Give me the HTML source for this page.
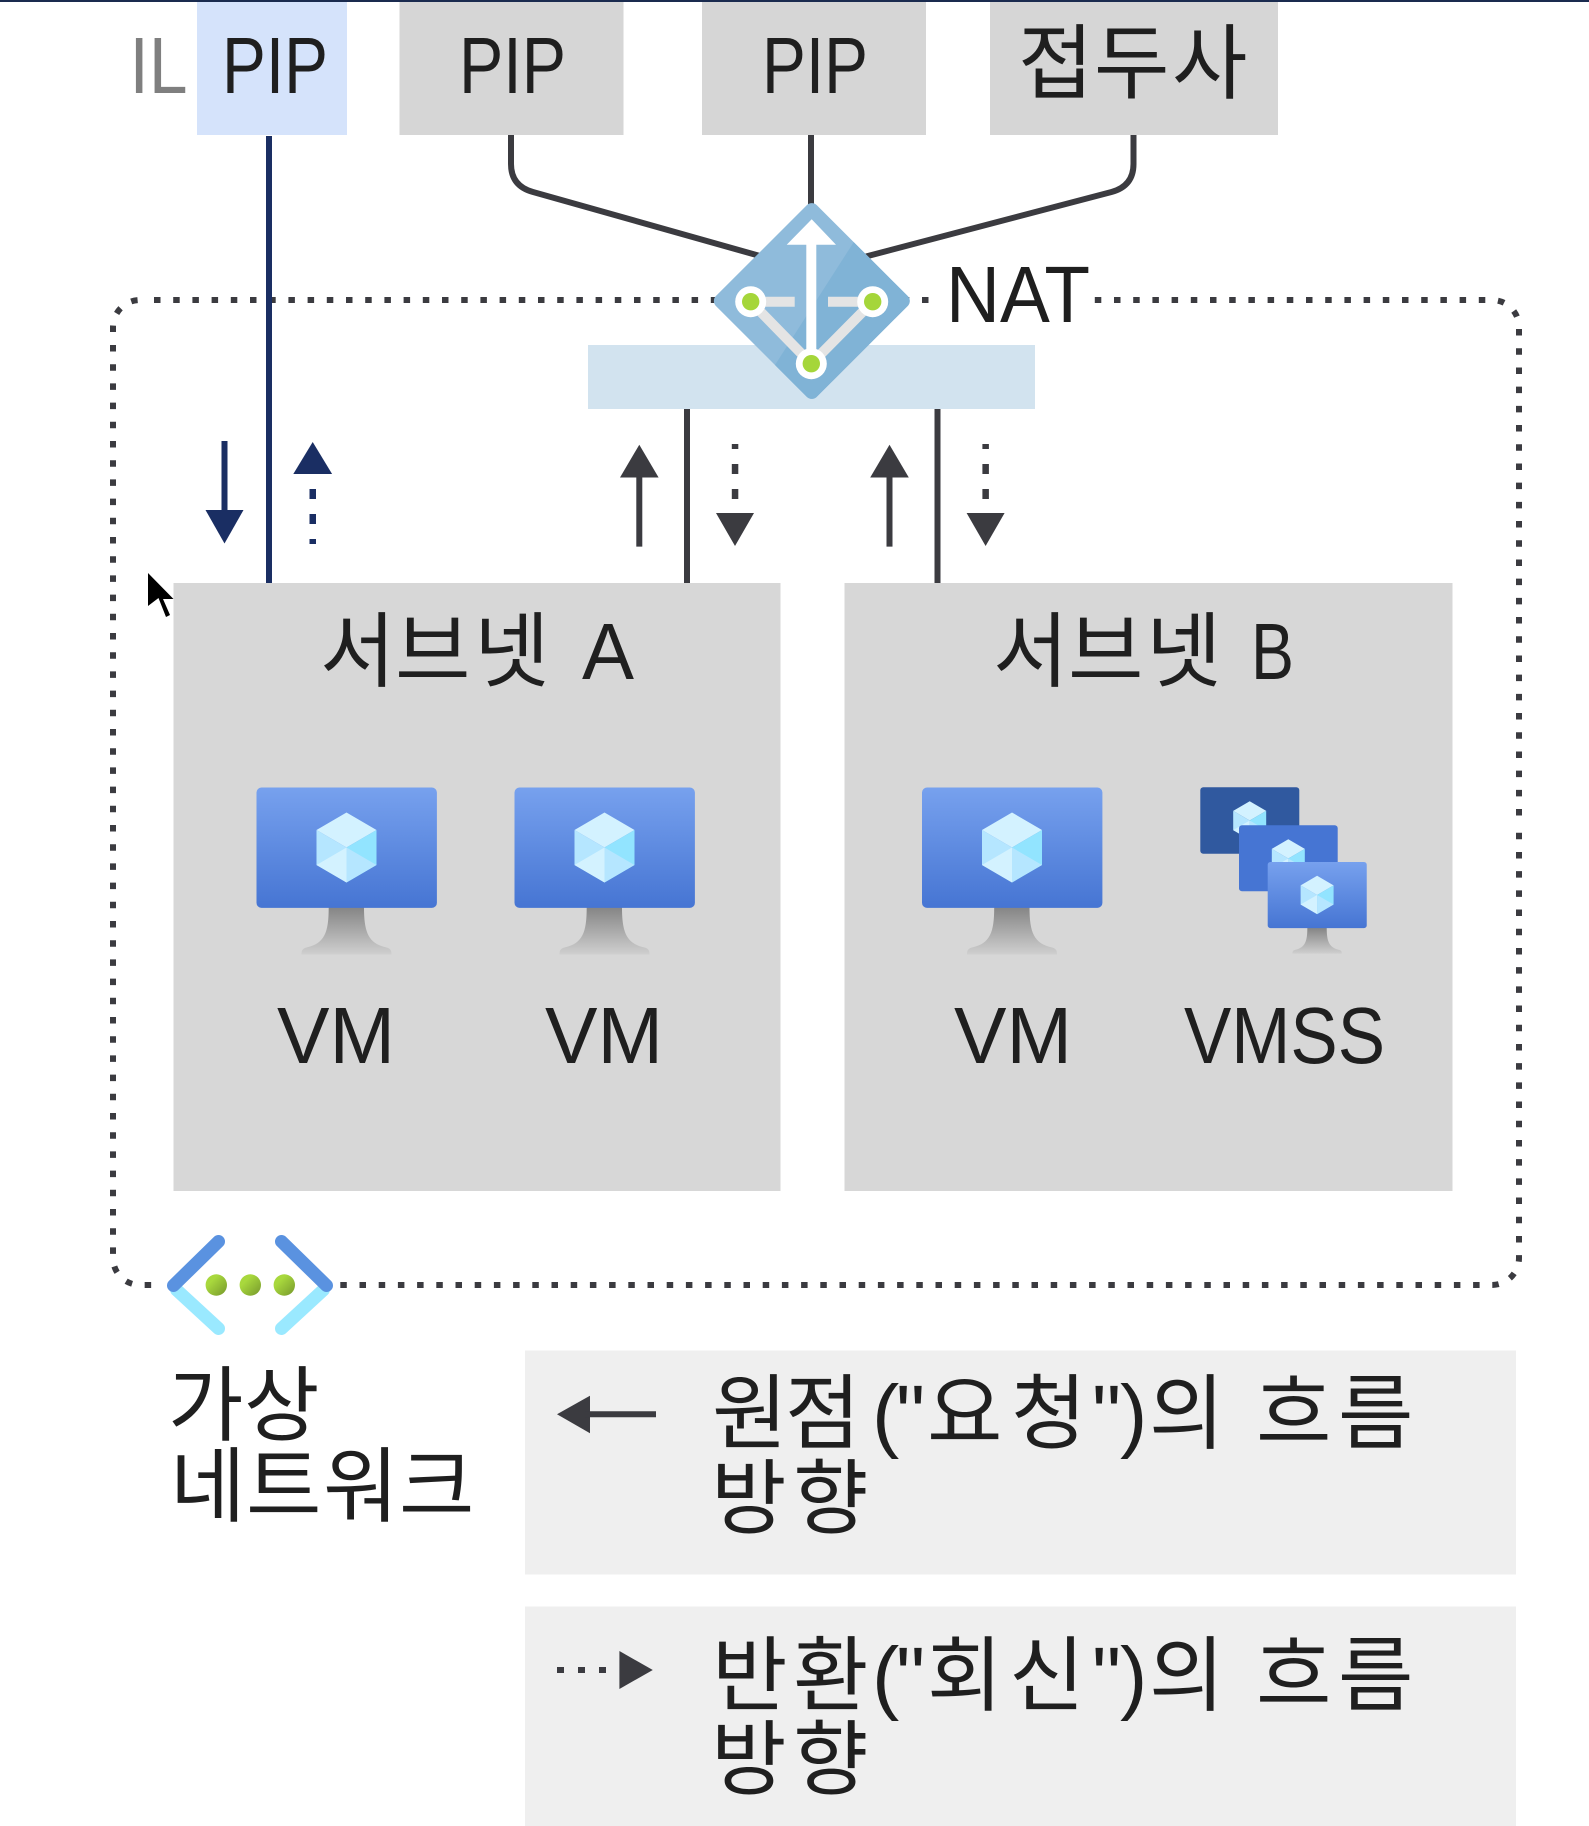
<!DOCTYPE html>
<html lang="ko">
<head>
<meta charset="utf-8">
<title>NAT diagram</title>
<style>
html,body{margin:0;padding:0;background:#fff;width:1589px;height:1826px;overflow:hidden}
svg{display:block}
text{font-family:"Liberation Sans","Noto Sans CJK KR",sans-serif;fill:#1f1f1f;font-size:80px}
text.k{font-family:"Liberation Sans","Noto Sans CJK KR","NanumGothic",sans-serif;font-size:82px}
</style>
</head>
<body>
<svg xmlns="http://www.w3.org/2000/svg" width="1589" height="1826" viewBox="0 0 1589 1826">
<defs>
<linearGradient id="scr" x1="0" y1="0" x2="0" y2="1"><stop offset="0" stop-color="#77a1ee"/><stop offset="1" stop-color="#4675d3"/></linearGradient>
<linearGradient id="std" x1="0" y1="0" x2="0" y2="1"><stop offset="0" stop-color="#858585"/><stop offset="1" stop-color="#cfcfcf"/></linearGradient>
<linearGradient id="grn" x1="0" y1="0" x2="1" y2="1"><stop offset="0.3" stop-color="#a8d83d"/><stop offset="1" stop-color="#76982c"/></linearGradient>
<g id="cube">
<polygon points="0,-35 30,-17.5 0,0 -30,-17.5" fill="#d3f2ff"/>
<polygon points="-30,-17.5 0,0 0,35 -30,17.5" fill="#b5e6ff"/>
<polygon points="30,-17.5 0,0 0,35 30,17.5" fill="#92e4ff"/>
<polygon points="-30,17.5 0,0 0,35" fill="#d3f2ff"/>
<polygon points="30,17.5 0,0 0,35" fill="#b5e6ff"/>
</g>
<g id="vm">
<path d="M72.2 120 H107.5 C107.5 145 112 156 130 160 C134 161 135 163 135 167 H45 C45 163 46 161 50 160 C68 156 72.2 145 72.2 120 Z" fill="url(#std)"/>
<rect x="0" y="0" width="180.4" height="120.4" rx="5" fill="url(#scr)"/>
<use href="#cube" x="90" y="60"/>
</g>
<clipPath id="dia"><rect x="740.5" y="229.7" width="142.6" height="142.6" rx="7" transform="rotate(45 811.8 301)"/></clipPath>
</defs>

<rect width="1589" height="1826" fill="#fff"/>
<rect x="0" y="0" width="1589" height="2" fill="#1a2b4f"/>

<!-- top boxes -->
<rect x="197" y="2" width="150" height="133" fill="#d5e3fb"/>
<rect x="399.500" y="2" width="224" height="133" fill="#d6d6d6"/>
<rect x="702" y="2" width="224" height="133" fill="#d6d6d6"/>
<rect x="990" y="2" width="288" height="133" fill="#d6d6d6"/>
<text x="129.500" y="93" textLength="58" lengthAdjust="spacingAndGlyphs" style="fill:#7f7f7f">IL</text>
<text x="222" y="93" textLength="106" lengthAdjust="spacingAndGlyphs">PIP</text>
<text x="459" y="93" textLength="107" lengthAdjust="spacingAndGlyphs">PIP</text>
<text x="762" y="93" textLength="106" lengthAdjust="spacingAndGlyphs">PIP</text>
<text class="k" x="1018 1094 1172" y="92">접두사</text>

<!-- dotted vnet boundary -->
<g fill="none" stroke="#3b3b40" stroke-width="6" stroke-dasharray="6.5 12.7">
<path d="M154 300 H1492 A27 27 0 0 1 1519 327 V816"/>
<path d="M113 332 V327 A27 27 0 0 1 140 300"/>
<path d="M113 345 V1258 A27 27 0 0 0 140 1285 H160"/>
<path d="M340.300 1285 H1492 A27 27 0 0 0 1519 1258 V832"/>
</g>

<!-- navy line -->
<line x1="269" y1="136" x2="269" y2="583" stroke="#1a2e63" stroke-width="6"/>

<!-- gray connectors -->
<path d="M511 135 V164 Q511 186 533 192 L760 256" fill="none" stroke="#3b3b40" stroke-width="6"/>
<path d="M811 135 V210" fill="none" stroke="#3b3b40" stroke-width="6"/>
<path d="M1133.500 135 V164 Q1133.500 186 1111.500 192 L864 257" fill="none" stroke="#3b3b40" stroke-width="6"/>

<!-- subnet bar and links -->
<rect x="588" y="345" width="447" height="64" fill="#d2e3ef"/>
<line x1="687" y1="409" x2="687" y2="583" stroke="#3b3b40" stroke-width="6"/>
<line x1="937.500" y1="409" x2="937.500" y2="583" stroke="#3b3b40" stroke-width="6"/>

<!-- NAT icon -->
<g clip-path="url(#dia)">
<rect x="700" y="190" width="225" height="225" fill="#8fbbdb"/>
<polygon points="854,241.700 775,365 812,415 925,301" fill="#80b3d6"/>
</g>
<line x1="750.700" y1="301.700" x2="794.700" y2="301.700" stroke="#e4e4e4" stroke-width="10"/>
<line x1="828" y1="301.700" x2="872.700" y2="301.700" stroke="#e4e4e4" stroke-width="10"/>
<line x1="750.700" y1="301.700" x2="811.300" y2="363.700" stroke="#e4e4e4" stroke-width="10"/>
<line x1="872.700" y1="301.700" x2="811.300" y2="363.700" stroke="#e4e4e4" stroke-width="10"/>
<polygon points="811.700,219.300 836,244.700 816.300,244.700 816.300,355 806.300,355 806.300,244.700 786.700,244.700" fill="#fff"/>
<circle cx="750.700" cy="301.700" r="15.500" fill="#fff"/><circle cx="750.700" cy="301.700" r="8.700" fill="#a5d63a"/>
<circle cx="872.700" cy="301.700" r="15.500" fill="#fff"/><circle cx="872.700" cy="301.700" r="8.700" fill="#a5d63a"/>
<circle cx="811.300" cy="363.700" r="15.500" fill="#fff"/><circle cx="811.300" cy="363.700" r="8.700" fill="#a5d63a"/>

<!-- NAT label -->
<rect x="932" y="285" width="160" height="30" fill="#fff"/>
<text x="946" y="322" textLength="144" lengthAdjust="spacingAndGlyphs">NAT</text>

<!-- navy arrows -->
<line x1="224.500" y1="441" x2="224.500" y2="512" stroke="#1a2e63" stroke-width="6"/>
<polygon points="205.500,510 243.500,510 224.500,543.500" fill="#1a2e63"/>
<polygon points="293.300,474 332.100,474 312.700,442" fill="#1a2e63"/>
<rect x="309.500" y="489" width="6.500" height="10" fill="#1a2e63"/>
<rect x="309.500" y="514" width="6.500" height="10" fill="#1a2e63"/>
<rect x="309.500" y="539" width="6.500" height="5" fill="#1a2e63"/>

<!-- gray arrows A -->
<line x1="639.300" y1="475" x2="639.300" y2="546.600" stroke="#3b3b40" stroke-width="6"/>
<polygon points="620,477.500 658.600,477.500 639.300,444.700" fill="#3b3b40"/>
<rect x="731.800" y="444" width="6.500" height="5" fill="#3b3b40"/>
<rect x="731.800" y="464" width="6.500" height="10" fill="#3b3b40"/>
<rect x="731.800" y="489" width="6.500" height="10" fill="#3b3b40"/>
<polygon points="716,513 754,513 735,546" fill="#3b3b40"/>

<!-- gray arrows B -->
<line x1="889.500" y1="475" x2="889.500" y2="546.600" stroke="#3b3b40" stroke-width="6"/>
<polygon points="870.200,477.500 908.800,477.500 889.500,444.700" fill="#3b3b40"/>
<rect x="982.400" y="444" width="6.500" height="5" fill="#3b3b40"/>
<rect x="982.400" y="464" width="6.500" height="10" fill="#3b3b40"/>
<rect x="982.400" y="489" width="6.500" height="10" fill="#3b3b40"/>
<polygon points="966.600,513 1004.600,513 985.600,546" fill="#3b3b40"/>

<!-- subnets -->
<rect x="173.500" y="583" width="607" height="608" fill="#d7d7d7"/>
<rect x="844.500" y="583" width="608" height="608" fill="#d7d7d7"/>

<!-- cursor -->
<polygon points="148,573 173.500,599 163,599 170,615 166,617 158.500,598 148,606" fill="#000"/>

<text class="k" x="320 395 474" y="680">서브넷</text>
<text x="582" y="679" textLength="52" lengthAdjust="spacingAndGlyphs">A</text>
<text class="k" x="993 1068 1146" y="680">서브넷</text>
<text x="1251" y="679" textLength="43" lengthAdjust="spacingAndGlyphs">B</text>

<use href="#vm" x="256.500" y="787.500"/>
<use href="#vm" x="514.500" y="787.500"/>
<use href="#vm" x="922" y="787.500"/>

<!-- VMSS -->
<rect x="1200.300" y="787.300" width="99" height="66.400" rx="3" fill="#30599f"/>
<use href="#cube" transform="translate(1249.700 820.500) scale(.55)"/>
<rect x="1239" y="825.300" width="98.700" height="66" rx="3" fill="#4675d3"/>
<use href="#cube" transform="translate(1288.300 858.500) scale(.55)"/>
<use href="#vm" transform="translate(1267.700 862) scale(.549)"/>

<text x="277" y="1063" textLength="118" lengthAdjust="spacingAndGlyphs">VM</text>
<text x="545" y="1063" textLength="118" lengthAdjust="spacingAndGlyphs">VM</text>
<text x="954" y="1063" textLength="118" lengthAdjust="spacingAndGlyphs">VM</text>
<text x="1184" y="1063" textLength="201" lengthAdjust="spacingAndGlyphs">VMSS</text>

<!-- vnet icon -->
<line x1="176.700" y1="1290" x2="218.500" y2="1328.500" stroke="#9ae9ff" stroke-width="13" stroke-linecap="round"/>
<line x1="323.300" y1="1290" x2="281.500" y2="1328.500" stroke="#9ae9ff" stroke-width="13" stroke-linecap="round"/>
<polyline points="218.500,1241.500 173.500,1285.500" fill="none" stroke="#5a92e0" stroke-width="13" stroke-linecap="round"/>
<polyline points="281.500,1241.500 326.500,1285.500" fill="none" stroke="#5a92e0" stroke-width="13" stroke-linecap="round"/>
<circle cx="216.300" cy="1285" r="10.700" fill="url(#grn)"/>
<circle cx="250.300" cy="1285" r="10.700" fill="url(#grn)"/>
<circle cx="284.300" cy="1285" r="10.700" fill="url(#grn)"/>

<text class="k" x="168 244" y="1434">가상</text>
<text class="k" x="170 246 323 399" y="1515">네트워크</text>

<!-- legend -->
<rect x="525" y="1350.500" width="991" height="224" fill="#efefef"/>
<rect x="525" y="1606.500" width="991" height="220" fill="#efefef"/>

<polygon points="557,1414.300 590,1395.700 590,1433.300" fill="#3b3b40"/>
<line x1="585" y1="1414.300" x2="656" y2="1414.300" stroke="#3b3b40" stroke-width="6"/>
<rect x="557" y="1667" width="7" height="6" fill="#3b3b40"/>
<rect x="578" y="1667" width="7" height="6" fill="#3b3b40"/>
<rect x="599" y="1667" width="7" height="6" fill="#3b3b40"/>
<polygon points="619.400,1651 652.800,1670 619.400,1689" fill="#3b3b40"/>

<text class="k" x="712 785 872 896 927 1011 1092 1120 1149 1220 1256 1338" y="1442">원점("요청")의 흐름</text>
<text class="k" x="711 793" y="1527">방향</text>
<text class="k" x="712 793 872 896 927 1009 1092 1120 1149 1220 1256 1338" y="1704">반환("회신")의 흐름</text>
<text class="k" x="711 793" y="1788">방향</text>
</svg>
</body>
</html>
